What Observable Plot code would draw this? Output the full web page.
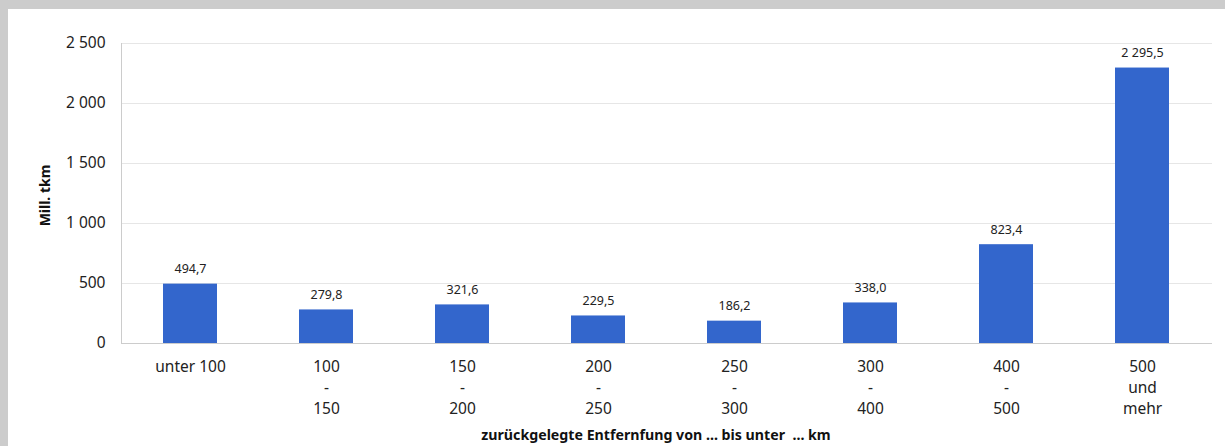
<!DOCTYPE html>
<html>
<head>
<meta charset="utf-8">
<script src="https://cdn.jsdelivr.net/npm/d3@7"></script>
<script src="https://cdn.jsdelivr.net/npm/@observablehq/plot@0.6"></script>
<style>
  html, body { margin: 0; padding: 0; background: #cccccc; width: 1225px; height: 446px; overflow: hidden; }
  #panel { position: absolute; left: 8px; top: 9px; width: 1217px; height: 437px; background: #ffffff; }
  #panel svg { display: block; }
</style>
</head>
<body>
<div id="panel"></div>
<script>
const categories = ["unter 100", "100\n-\n150", "150\n-\n200", "200\n-\n250", "250\n-\n300", "300\n-\n400", "400\n-\n500", "500\nund\nmehr"];
const values = [494.7, 279.8, 321.6, 229.5, 186.2, 338.0, 823.4, 2295.5];
const yTicks = [0, 500, 1000, 1500, 2000, 2500];
const yLabel = "Mill. tkm";
const xLabel = "zurückgelegte Entfernfung von ... bis unter  ... km";

const data = categories.map((c, i) => ({category: c, value: values[i]}));
const loc = d3.formatLocale({decimal: ",", thousands: " ", grouping: [3]});
const fmtInt = loc.format(",d");
const fmtVal = loc.format(",.1f");

const font = "'Noto Sans', 'Open Sans', sans-serif";

const chart = Plot.plot({
  width: 1217,
  height: 437,
  marginLeft: 113,
  marginRight: 13,
  marginTop: 34,
  marginBottom: 103,
  style: {fontFamily: font, fontSize: "15px", color: "#222", background: "#fff"},
  x: {domain: categories, paddingInner: 0.6, paddingOuter: 0.3, label: null},
  y: {domain: [0, 2500], label: null},
  marks: [
    Plot.gridY(yTicks, {stroke: "#e6e6e6", strokeOpacity: 1}),
    Plot.frame({anchor: "left", stroke: "#cccccc"}),
    Plot.barY(data, {x: "category", y: "value", fill: "#3366cc"}),
    Plot.ruleY([0], {stroke: "#cccccc"}),
    Plot.axisY(yTicks, {tickSize: 0, tickPadding: 16, tickFormat: fmtInt, fontSize: 15.5, fill: "#222", label: null}),
    Plot.axisX({tickSize: 0, tickPadding: 14, lineHeight: 1.35, fontSize: 15.5, fill: "#222", label: null}),
    Plot.text(data, {x: "category", y: "value", text: d => fmtVal(d.value), dy: -15, fontSize: 12.5, fill: "#222"}),
    Plot.text([xLabel], {frameAnchor: "bottom", textAnchor: "middle", dy: 96, dx: -11, fontWeight: "bold", fontSize: 14.2, fill: "#111"}),
    Plot.text([yLabel], {frameAnchor: "left", textAnchor: "middle", dx: -76, dy: 2, rotate: -90, fontWeight: "bold", fontSize: 14, fill: "#111"})
  ]
});
document.getElementById("panel").appendChild(chart);
</script>
</body>
</html>
